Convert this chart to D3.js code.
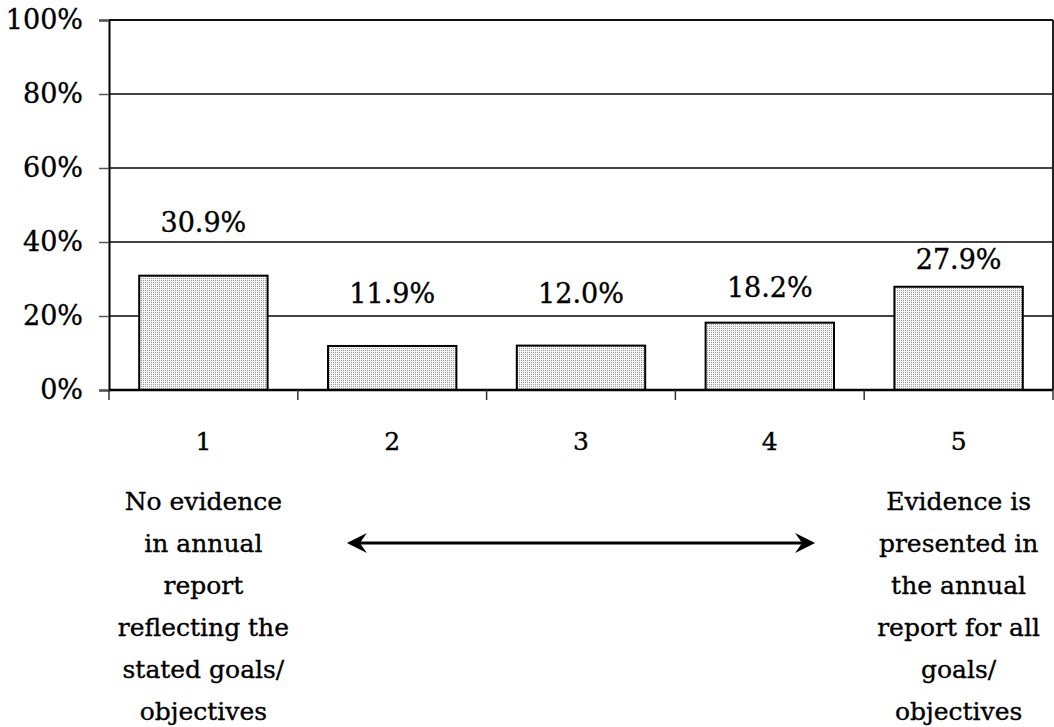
<!DOCTYPE html>
<html>
<head>
<meta charset="utf-8">
<script src="https://cdn.jsdelivr.net/npm/d3@7"></script>
<style>
  html, body { margin: 0; padding: 0; background: #fff; }
  svg { display: block; }
  text { font-family: "DejaVu Serif", "Liberation Serif", serif; fill: #000; stroke: #000; stroke-width: 0.35px; }
</style>
</head>
<body>
<svg id="chart" width="1054" height="727"></svg>
<script>
// Rating scale categories and the share of responses in each
const categories = ["1", "2", "3", "4", "5"];
const shares = [30.9, 11.9, 12.0, 18.2, 27.9];
const yTicks = [0, 20, 40, 60, 80, 100];
const lowEndText = ["No evidence", "in annual", "report", "reflecting the", "stated goals/", "objectives"];
const highEndText = ["Evidence is", "presented in", "the annual", "report for all", "goals/", "objectives"];

const svg = d3.select("#chart");
const margin = { top: 20, left: 109, right: 1, bottom: 337 };
const W = 1054 - margin.left - margin.right;
const H = 727 - margin.top - margin.bottom;
const g = svg.append("g").attr("transform", `translate(${margin.left},${margin.top})`);

const x = d3.scaleBand().domain(categories).range([0, W]).paddingInner(0.32).paddingOuter(0.16);
const xCell = d3.scaleLinear().domain([0, categories.length]).range([0, W]);
const y = d3.scaleLinear().domain([0, 100]).range([H, 0]);

// dotted fill for the bars
const defs = svg.append("defs");
const pat = defs.append("pattern").attr("id", "dots").attr("width", 2).attr("height", 2)
  .attr("patternUnits", "userSpaceOnUse");
pat.append("rect").attr("width", 2).attr("height", 2).attr("fill", "#f4f4f4");
pat.append("rect").attr("width", 1).attr("height", 1).attr("fill", "#9a9a9a");

// horizontal gridlines
g.append("g").selectAll("line").data(yTicks.filter(t => t > 0 && t < 100)).join("line")
  .attr("x1", 0).attr("x2", W).attr("y1", d => y(d)).attr("y2", d => y(d))
  .attr("stroke", "#444").attr("stroke-width", 1.2)
  .attr("shape-rendering", "crispEdges");

// plot frame (top and right)
g.append("line").attr("x1", 0).attr("x2", W).attr("y1", y(100)).attr("y2", y(100))
  .attr("stroke", "#111").attr("stroke-width", 2);
g.append("line").attr("x1", W).attr("x2", W).attr("y1", y(100)).attr("y2", H)
  .attr("stroke", "#222").attr("stroke-width", 2);

// bars
g.selectAll("rect.bar").data(shares).join("rect").attr("class", "bar")
  .attr("x", (d, i) => x(categories[i]))
  .attr("width", x.bandwidth())
  .attr("y", d => y(d))
  .attr("height", d => H - y(d))
  .attr("fill", "url(#dots)")
  .attr("stroke", "#000").attr("stroke-width", 2);

// value labels, lifted above each bar
const labelLift = [44, 43, 43, 26, 18];
g.selectAll("text.val").data(shares).join("text").attr("class", "val")
  .attr("x", (d, i) => x(categories[i]) + x.bandwidth() / 2)
  .attr("y", (d, i) => y(d) - labelLift[i])
  .attr("text-anchor", "middle")
  .attr("font-size", 27)
  .text(d => d.toFixed(1) + "%");

// y axis
const yAxis = d3.axisLeft(y).tickValues(yTicks).tickFormat(d => d + "%").tickSize(10).tickPadding(16);
const ya = g.append("g").call(yAxis);
ya.select(".domain").attr("stroke", "#000").attr("stroke-width", 2);
ya.selectAll(".tick line").attr("stroke", "#555").attr("stroke-width", 1.5);
ya.selectAll(".tick text").attr("font-size", 27).attr("font-family", "DejaVu Serif").attr("fill", "#000");

// x axis baseline and category separators
g.append("line").attr("x1", 0).attr("x2", W).attr("y1", H).attr("y2", H)
  .attr("stroke", "#000").attr("stroke-width", 2.5);
g.append("g").selectAll("line").data(d3.range(categories.length + 1)).join("line")
  .attr("x1", d => xCell(d)).attr("x2", d => xCell(d))
  .attr("y1", H).attr("y2", H + 10)
  .attr("stroke", "#333").attr("stroke-width", 1.5);

// category numbers
g.selectAll("text.cat").data(categories).join("text").attr("class", "cat")
  .attr("x", d => x(d) + x.bandwidth() / 2)
  .attr("y", H + 60)
  .attr("text-anchor", "middle")
  .attr("font-size", 25)
  .text(d => d);

// scale end descriptions
function block(lines, cat) {
  g.append("g").selectAll("text").data(lines).join("text")
    .attr("x", x(cat) + x.bandwidth() / 2)
    .attr("y", (d, i) => H + 120 + i * 42)
    .attr("text-anchor", "middle")
    .attr("font-size", 25)
    .text(d => d);
}
block(lowEndText, categories[0]);
block(highEndText, categories[categories.length - 1]);

// double-headed arrow spanning the middle of the scale
const ay = H + 153;
const ax1 = xCell(1.26), ax2 = xCell(3.74);
g.append("line").attr("x1", ax1 + 8).attr("x2", ax2 - 8).attr("y1", ay).attr("y2", ay)
  .attr("stroke", "#000").attr("stroke-width", 3);
const head = (tip, dir) => {
  const p = d3.path();
  p.moveTo(tip, ay);
  p.lineTo(tip + dir * 20, ay - 10);
  p.lineTo(tip + dir * 13, ay);
  p.lineTo(tip + dir * 20, ay + 10);
  p.closePath();
  return p.toString();
};
g.append("path").attr("d", head(ax1, 1)).attr("fill", "#000");
g.append("path").attr("d", head(ax2, -1)).attr("fill", "#000");
</script>
</body>
</html>
